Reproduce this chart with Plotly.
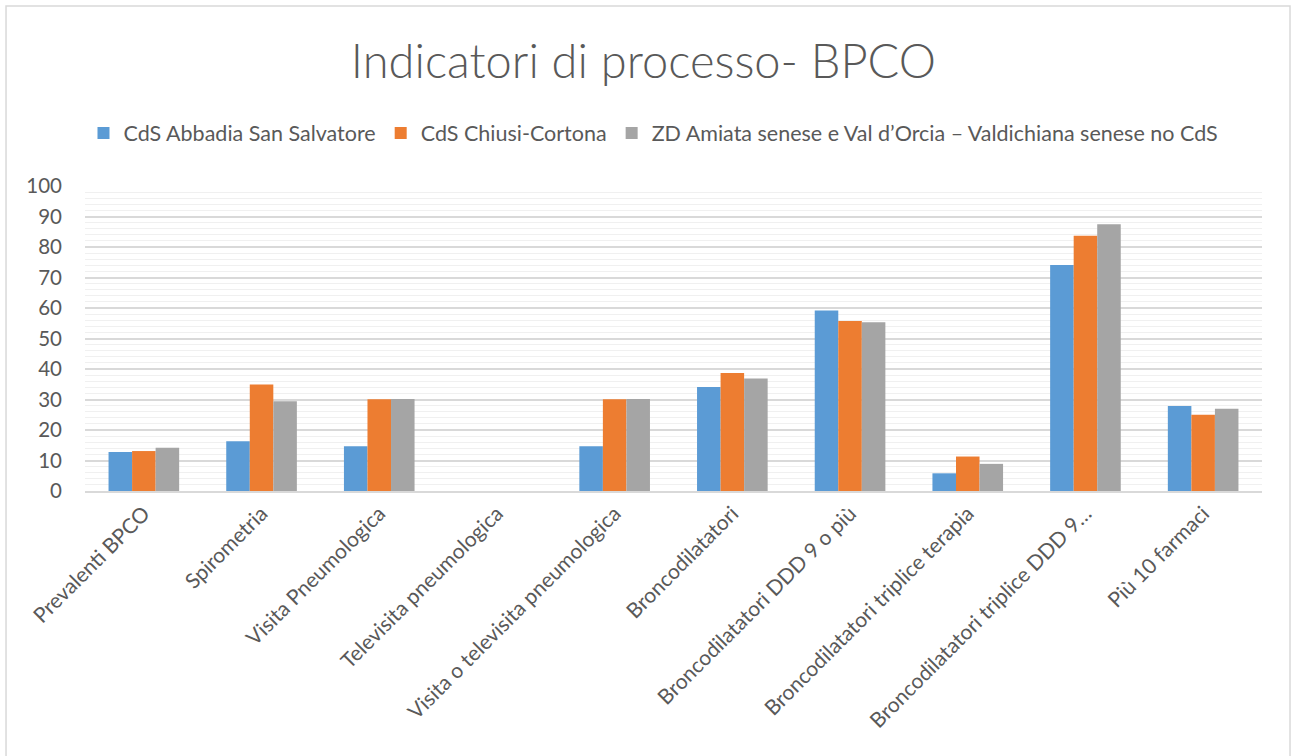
import plotly.graph_objects as go

# dati
categorie = [
    "Prevalenti BPCO",
    "Spirometria",
    "Visita Pneumologica",
    "Televisita pneumologica",
    "Visita o televisita pneumologica",
    "Broncodilatatori",
    "Broncodilatatori DDD 9 o più",
    "Broncodilatatori triplice terapia",
    "Broncodilatatori triplice DDD 9…",
    "Più 10 farmaci",
]
abbadia = [12.8, 16.3, 14.7, 0, 14.7, 34.1, 59.2, 5.8, 74.1, 27.9]
chiusi = [13.1, 34.9, 30.1, 0, 30.1, 38.7, 55.7, 11.3, 83.7, 25.0]
zd_amiata = [14.2, 29.4, 30.2, 0, 30.2, 36.9, 55.3, 8.9, 87.5, 27.0]

nomi = [
    "CdS Abbadia San Salvatore",
    "CdS Chiusi-Cortona",
    "ZD Amiata senese e Val d’Orcia – Valdichiana senese no CdS",
]
colori = ["#5B9BD5", "#ED7D31", "#A5A5A5"]
y_ticks = list(range(0, 101, 10))

grigio = "#595959"
font_fam = "Lato, 'Open Sans', sans-serif"

fig = go.Figure()
for nome, valori, col in zip(nomi, [abbadia, chiusi, zd_amiata], colori):
    fig.add_trace(go.Bar(x=categorie, y=valori, name=nome,
                         marker=dict(color=col, line=dict(width=0))))

fig.update_layout(
    width=1292, height=756,
    margin=dict(l=85, r=30, t=186, b=265),
    paper_bgcolor="white", plot_bgcolor="white",
    barmode="group", bargap=0.4, bargroupgap=0,
    font=dict(family=font_fam, color=grigio),
    title=dict(text="Indicatori di processo- BPCO", x=0.498, xanchor="center",
               y=0.918, yanchor="middle",
               font=dict(size=47, color=grigio, family=font_fam, weight=300)),
    legend=dict(orientation="h", x=0.483, xanchor="center", y=1.174, yanchor="middle",
                font=dict(size=21.5, color=grigio), traceorder="normal",
                itemclick=False),
    showlegend=True,
)
fig.update_xaxes(
    type="category", tickangle=-45, tickfont=dict(size=21, color=grigio),
    showline=True, linecolor="#d9d9d9", linewidth=2, ticks="", automargin=False,
    showgrid=False,
)
fig.update_yaxes(
    range=[0, 100], tickvals=y_ticks, tickfont=dict(size=20.5, color=grigio),
    showgrid=True, gridcolor="#d9d9d9", gridwidth=1.5,
    minor=dict(dtick=2, showgrid=True, gridcolor="#f0f0f0", gridwidth=1),
    zeroline=False, showline=False, ticks="", automargin=False,
    ticklabelstandoff=22,
)

# cornice del grafico
fig.add_shape(type="rect", xref="paper", yref="paper",
              x0=-0.0671, x1=1.0238, y0=-0.95, y1=1.590,
              line=dict(color="#d9d9d9", width=1.5), layer="below")

fig.write_html("out.html", config={"displayModeBar": False},
               post_script="document.body.style.margin='0';")
